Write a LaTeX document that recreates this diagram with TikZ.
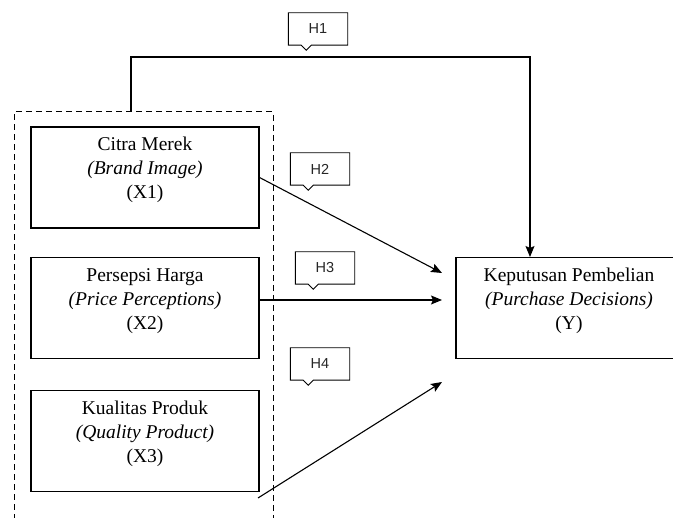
\documentclass[tikz,border=0pt]{standalone}
\usepackage{fontspec}
\setmainfont{Liberation Serif}
\newfontfamily\hfont{Liberation Sans}
\usetikzlibrary{arrows.meta,calc}
\tikzset{
  varbox/.style={draw, line width=1.1pt, minimum width=228pt, minimum height=101pt, inner sep=0pt},
  txt/.style={align=center, font=\fontsize{19.5}{24}\selectfont, inner sep=0pt},
  hyp/.style={font=\hfont\fontsize{14.5}{16}\selectfont, text=black!85, minimum width=59pt, minimum height=32pt, inner sep=0pt},
  arr/.style={line width=1.1pt, -{Stealth[length=11pt,width=9pt,inset=2pt]}},
  grp/.style={line width=1pt, dash pattern=on 6pt off 4pt},
  callline/.style={line width=0.9pt, line join=miter}
}
\newcommand{\hypbox}[1]{%
  \draw[callline] (#1.north west) -- (#1.north east) -- (#1.south east)
    -- ($(#1.south west)+(23,0)$) -- ++(-5,5) -- ++(-5,-5) -- (#1.south west) -- cycle;}
\begin{document}
\begin{tikzpicture}[x=1pt,y=-1pt]
\useasboundingbox (0,0) rectangle (673,518);
% group (dashed)
\coordinate (g1) at (14,530);
\coordinate (g2) at (14,112);
\coordinate (g3) at (273,112);
\coordinate (g4) at (273,530);
\draw[grp] (g1) -- (g2) -- (g3) -- (g4);
% variable boxes
\node[varbox] (x1) at (145,177.5) {};
\node[txt] (x1t) at (145,170) {Citra Merek\\\textit{(Brand Image)}\\(X1)};
\node[varbox] (x2) at (145,308) {};
\node[txt] (x2t) at (145,301) {Persepsi Harga\\\textit{(Price Perceptions)}\\(X2)};
\node[varbox] (x3) at (145,441) {};
\node[txt] (x3t) at (145,434) {Kualitas Produk\\\textit{(Quality Product)}\\(X3)};
\node[varbox, minimum width=226pt] (y) at (569,308) {};
\node[txt] (yt) at (569,301) {Keputusan Pembelian\\\textit{(Purchase Decisions)}\\(Y)};
% connector ends
\coordinate (h1s) at (131,112);
\coordinate (yin1) at (530,257);
\coordinate (yin2) at (442,273);
\coordinate (yin3) at (442,300);
\coordinate (yin4) at (442,382);
\coordinate (x2out) at (259,300);
\coordinate (x3out) at (258,498);
% connectors
\draw[arr] (h1s) -- ++(0,-55) -| (yin1);
\draw[arr] (x1.east) -- (yin2);
\draw[arr] (x2out) -- (yin3);
\draw[arr] (x3out) -- (yin4);
% hypothesis labels
\node[hyp] (h1) at (318,29) {H1};
\node[hyp] (h2) at (320,169) {H2};
\node[hyp] (h3) at (325,268) {H3};
\node[hyp] (h4) at (320,364) {H4};
\hypbox{h1}
\hypbox{h2}
\hypbox{h3}
\hypbox{h4}
\end{tikzpicture}
\end{document}
